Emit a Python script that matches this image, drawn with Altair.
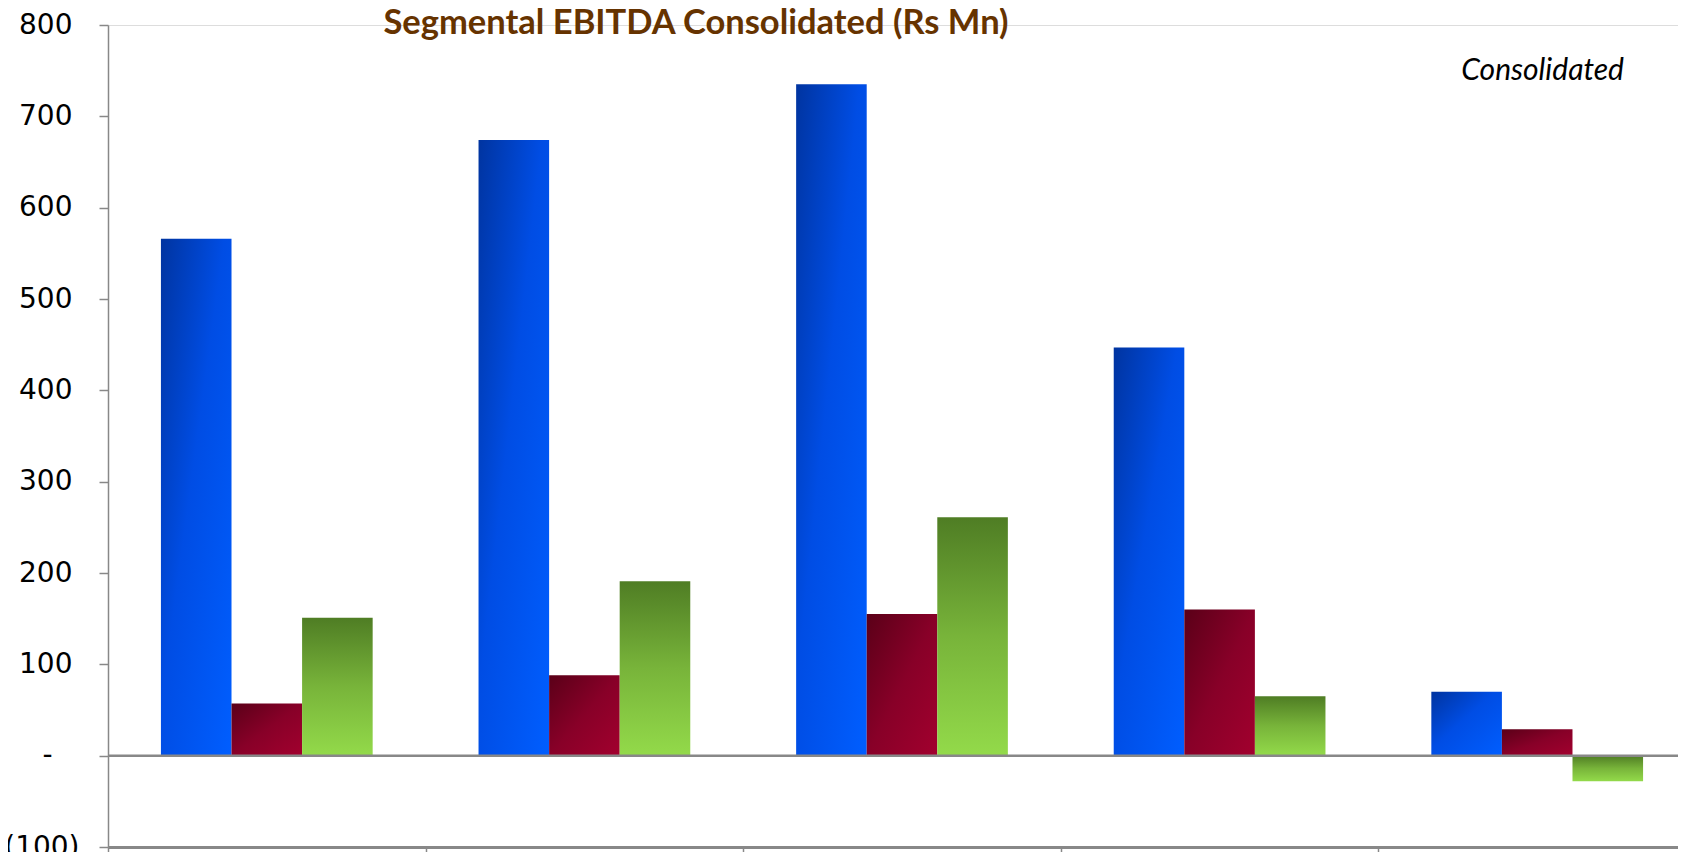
import altair as alt
import pandas as pd

# ---- data ----
categories = ["FY10", "FY11", "FY12", "FY13", "FY14 Q1"]
series = ["Segment A", "Segment B", "Segment C"]
segment_a = [566, 674, 735, 447, 70]
segment_b = [57, 88, 155, 160, 29]
segment_c = [151, 191, 261, 65, -28]
y_ticks = [-100, 0, 100, 200, 300, 400, 500, 600, 700, 800]
title_text = "Segmental EBITDA Consolidated (Rs Mn)"
note_text = "Consolidated"

rows = []
for name, vals in zip(series, [segment_a, segment_b, segment_c]):
    for c, v in zip(categories, vals):
        rows.append({"period": c, "series": name, "value": v})
df = pd.DataFrame(rows)

W, H = 1570, 822      # visible plot area (page is cut at the right edge)
X_RANGE = 1588        # the category axis runs past the page edge, as in the reference

gradients = {
    "Segment A": alt.LinearGradient(
        gradient="linear", x1=0, y1=0, x2=1, y2=1,
        stops=[alt.GradientStop(color="#0034a0", offset=0),
               alt.GradientStop(color="#004de4", offset=0.45),
               alt.GradientStop(color="#005eff", offset=1)]),
    "Segment B": alt.LinearGradient(
        gradient="linear", x1=0, y1=0, x2=1, y2=1,
        stops=[alt.GradientStop(color="#5a0018", offset=0),
               alt.GradientStop(color="#880028", offset=0.5),
               alt.GradientStop(color="#a2002e", offset=1)]),
    "Segment C": alt.LinearGradient(
        gradient="linear", x1=0, y1=0, x2=0, y2=1,
        stops=[alt.GradientStop(color="#4f7d24", offset=0),
               alt.GradientStop(color="#78b43a", offset=0.5),
               alt.GradientStop(color="#93da4a", offset=1)]),
}

x_enc = alt.X(
    "period:N", sort=categories,
    scale=alt.Scale(domain=categories, paddingInner=0, paddingOuter=0,
                    range=[0, X_RANGE]),
    axis=alt.Axis(title=None, tickBand="extent", labelAngle=0,
                  labelFont="DejaVu Sans", labelFontSize=26, labelFontWeight="bold",
                  labelColor="black", labelPadding=8, labelBaseline="top",
                  domainColor="#888888", domainWidth=3,
                  tickColor="#888888", tickWidth=1.5, tickSize=30),
)
xoff_enc = alt.XOffset("series:N",
                       scale=alt.Scale(domain=series, paddingInner=0, paddingOuter=0.75))
label_expr = (
    "datum.value == 0 ? '-' : "
    "(datum.value < 0 ? '(' + format(-datum.value, ',') + ')' : format(datum.value, ','))"
)
y_enc = alt.Y(
    "value:Q", stack=None,
    scale=alt.Scale(domain=[-100, 800], nice=False, zero=True),
    axis=alt.Axis(title=None, grid=False, values=y_ticks, labelExpr=label_expr,
                  labelFont="DejaVu Sans", labelFontSize=28, labelColor="black",
                  labelPadding={"condition": [
                      {"test": "datum.value < 0", "value": 20},
                      {"test": "datum.value == 0", "value": 47}],
                      "value": 27},
                  labelFlush=False, labelOverlap=False,
                  domainColor="#888888", domainWidth=1.5,
                  tickColor="#888888", tickWidth=1.5, tickSize=9),
)

layers = []
for s in series:
    layers.append(
        alt.Chart(df).transform_filter(alt.datum.series == s)
        .mark_bar(color=gradients[s])
        .encode(x=x_enc, xOffset=xoff_enc, y=y_enc)
    )

zero_rule = alt.Chart(pd.DataFrame({"z": [0]})).mark_rule(
    color="#888888", strokeWidth=2.5
).encode(y=alt.datum(0))

title_mark = alt.Chart(pd.DataFrame({"t": [title_text]})).mark_text(
    font="Lato", fontSize=34.5, fontWeight="bold", color="#663300",
    align="center", baseline="alphabetic"
).encode(text="t:N", x=alt.value(588), y=alt.value(8.5))

note_mark = alt.Chart(pd.DataFrame({"t": [note_text]})).mark_text(
    font="Lato", fontSize=30, fontStyle="italic", color="black",
    align="right", baseline="middle"
).encode(text="t:N", x=alt.value(1516), y=alt.value(46))

chart = alt.layer(*layers, zero_rule, title_mark, note_mark).properties(
    width=W, height=H,
    autosize=alt.AutoSizeParams(type="none"),
    padding={"left": 100, "top": 17, "right": 0, "bottom": 5},
).configure_view(strokeWidth=0).configure(background="white")

chart.save("out.html", embed_options={"renderer": "svg", "actions": False})
